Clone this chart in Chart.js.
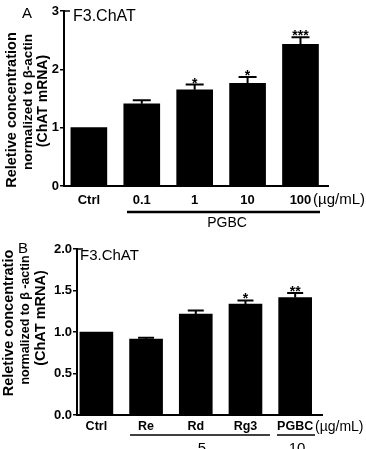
<!DOCTYPE html>
<html><head><meta charset="utf-8">
<script src="https://cdn.jsdelivr.net/npm/chart.js@4/dist/chart.umd.min.js"></script>
<style>
html,body{margin:0;padding:0;background:#fff;}
#wrap{position:relative;width:366px;height:449px;overflow:hidden;background:#fff;}
canvas{position:absolute;left:0;}
#cA{top:0}
#cB{top:225px}
</style></head><body>
<div id="wrap"><canvas id="cA" width="366" height="245"></canvas><canvas id="cB" width="366" height="224"></canvas></div>
<script>
const categoriesA = ['Ctrl', '0.1', '1', '10', '100'];
const valuesA = [1.00, 1.41, 1.65, 1.76, 2.43];
const errorsA = [0, 0.06, 0.09, 0.11, 0.12];
const starsA = ['', '', '*', '*', '***'];
const yTicksA = [0, 1, 2, 3];

const categoriesB = ['Ctrl', 'Re', 'Rd', 'Rg3', 'PGBC'];
const valuesB = [1.00, 0.915, 1.215, 1.335, 1.415];
const errorsB = [0, 0.015, 0.045, 0.045, 0.055];
const starsB = ['', '', '', '*', '**'];
const yTicksB = [0, 0.5, 1.0, 1.5, 2.0];

const FONT = "'Liberation Sans', Arial, Helvetica, sans-serif";
Chart.defaults.font.family = FONT;
Chart.defaults.color = '#000';

function errPlugin(values, errors, stars, capHalf) {
  return {
    id: 'errbars',
    afterDatasetsDraw(chart) {
      const ctx = chart.ctx, xs = chart.scales.x, ys = chart.scales.y;
      ctx.save();
      ctx.strokeStyle = '#000'; ctx.fillStyle = '#000'; ctx.lineWidth = 2;
      values.forEach((v, i) => {
        const x = xs.getPixelForValue(i);
        const y0 = ys.getPixelForValue(v);
        const y1 = ys.getPixelForValue(v + errors[i]);
        if (errors[i] > 0) {
          ctx.beginPath();
          ctx.moveTo(x, y0); ctx.lineTo(x, y1);
          ctx.moveTo(x - capHalf, y1); ctx.lineTo(x + capHalf, y1);
          ctx.stroke();
        }
        if (stars[i]) {
          ctx.font = 'bold 14px ' + FONT;
          ctx.textAlign = 'center'; ctx.textBaseline = 'alphabetic';
          ctx.fillText(stars[i], x, y1 + 3);
        }
      });
      ctx.lineWidth = 1.5;
      ctx.beginPath();
      ctx.moveTo(chart.chartArea.left, chart.chartArea.top);
      ctx.lineTo(chart.chartArea.left + 6, chart.chartArea.top);
      ctx.stroke();
      ctx.restore();
    }
  };
}

function text(ctx, s, x, y, font, align, base) {
  ctx.font = font; ctx.textAlign = align || 'left'; ctx.textBaseline = base || 'middle';
  ctx.fillText(s, x, y);
}
function vtext(ctx, s, x, y, font) {
  ctx.save(); ctx.translate(x, y); ctx.rotate(-Math.PI / 2);
  ctx.font = font; ctx.textAlign = 'center'; ctx.textBaseline = 'middle';
  ctx.fillText(s, 0, 0); ctx.restore();
}
function hline(ctx, x1, x2, y, w) {
  ctx.lineWidth = w; ctx.beginPath(); ctx.moveTo(x1, y); ctx.lineTo(x2, y); ctx.stroke();
}

const annotA = {
  id: 'annotA',
  afterDraw(chart) {
    const ctx = chart.ctx; ctx.save(); ctx.fillStyle = '#000'; ctx.strokeStyle = '#000';
    text(ctx, 'A', 27, 14, '15px ' + FONT, 'center');
    text(ctx, 'F3.ChAT', 73, 17, '16px ' + FONT);
    vtext(ctx, 'Reletive concentration', 12, 110, 'bold 14.5px ' + FONT);
    vtext(ctx, 'normalized to \u03b2-actin', 28, 102, 'bold 13.5px ' + FONT);
    vtext(ctx, '(ChAT mRNA)', 43, 101, 'bold 14px ' + FONT);
    text(ctx, '(\u00b5g/mL)', 313, 200, '15px ' + FONT);
    hline(ctx, 127, 320, 212, 2.5);
    text(ctx, 'PGBC', 227, 223, '14px ' + FONT, 'center');
    ctx.restore();
  }
};

const annotB = {
  id: 'annotB',
  afterDraw(chart) {
    const ctx = chart.ctx; ctx.save(); ctx.fillStyle = '#000'; ctx.strokeStyle = '#000';
    text(ctx, 'B', 23, 24, '15px ' + FONT, 'center');
    text(ctx, 'F3.ChAT', 80, 31, '15px ' + FONT);
    vtext(ctx, 'Reletive concentratio', 9, 98, 'bold 14.5px ' + FONT);
    vtext(ctx, 'normalized to \u03b2 -actin', 26, 95, 'bold 12.5px ' + FONT);
    vtext(ctx, '(ChAT mRNA)', 41, 93, 'bold 14.5px ' + FONT);
    text(ctx, '(\u00b5g/mL)', 315, 202, '14px ' + FONT);
    hline(ctx, 130, 270, 210, 1.5);
    hline(ctx, 277, 315, 210, 1.5);
    text(ctx, '5', 202, 228, '15px ' + FONT, 'center', 'alphabetic');
    text(ctx, '10', 297, 228, '15px ' + FONT, 'center', 'alphabetic');
    ctx.restore();
  }
};

function makeChart(id, cats, vals, yTicks, opts) {
  return new Chart(document.getElementById(id), {
    type: 'bar',
    data: {
      datasets: [{
        data: vals.map((v, i) => ({ x: i, y: v })),
        backgroundColor: '#000', borderWidth: 0,
        barThickness: opts.barW
      }]
    },
    options: {
      responsive: false, animation: false, devicePixelRatio: 1,
      layout: { padding: opts.padding },
      plugins: { legend: { display: false }, tooltip: { enabled: false } },
      scales: {
        x: {
          type: 'linear', min: opts.xmin, max: opts.xmax, offset: false,
          grid: { display: false, drawTicks: false, offset: false },
          border: { display: true, color: '#000', width: 2 },
          afterBuildTicks: s => { s.ticks = cats.map((c, i) => ({ value: i })); },
          afterFit: s => { s.height = opts.xH; },
          ticks: {
            autoSkip: false, maxRotation: 0, padding: opts.xPad,
            font: { size: opts.xFont, weight: 'bold' },
            callback: (v) => cats[v]
          }
        },
        y: {
          min: yTicks[0], max: yTicks[yTicks.length - 1],
          afterBuildTicks: s => { s.ticks = yTicks.map(v => ({ value: v })); },
          afterFit: s => { s.width = opts.yW; },
          grid: { drawOnChartArea: false, drawTicks: true, tickLength: 4, color: '#000', lineWidth: 1.5 },
          border: { display: true, color: '#000', width: 2 },
          ticks: {
            padding: 1, font: { size: 13, weight: 'bold' },
            callback: (v) => opts.yFmt(v)
          }
        }
      }
    },
    plugins: opts.plugins
  });
}

makeChart('cA', categoriesA, valuesA, yTicksA, {
  barW: 36, xmin: -0.47, xmax: 4.52, xH: 59, xPad: 7, yW: 34, xFont: 13,
  padding: { left: 30, right: 38, top: 11, bottom: 0 },
  yFmt: v => String(v),
  plugins: [errPlugin(valuesA, errorsA, starsA, 9), annotA]
});

makeChart('cB', categoriesB, valuesB, yTicksB, {
  barW: 33, xmin: -0.39, xmax: 4.54, xH: 34, xPad: 4, yW: 40, xFont: 12.5,
  padding: { left: 37, right: 44, top: 24, bottom: 0 },
  yFmt: v => v.toFixed(1),
  plugins: [errPlugin(valuesB, errorsB, starsB, 8), annotB]
});
</script>
</body></html>
